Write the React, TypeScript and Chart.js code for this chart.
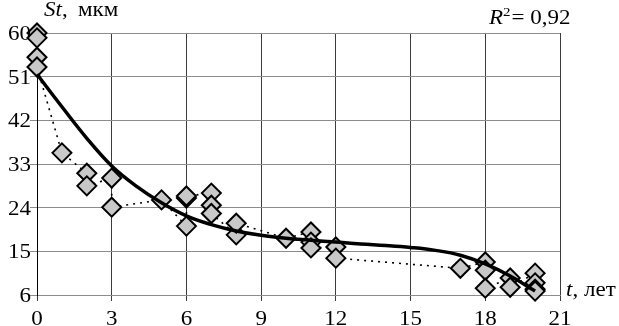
import React, { useEffect, useRef } from 'react';
import { Chart, registerables } from 'chart.js';

Chart.register(...registerables);

// Measured points (t, years; St, µm)
const pointX = [0, 0, 0, 0, 1, 2, 2, 3, 3, 5, 6, 6, 6, 7, 7, 7, 8, 8, 10, 11, 11, 11, 12, 12, 17, 18, 18, 18, 19, 19, 20, 20, 20, 20];
const pointY = [60, 59, 55, 53, 35.3, 31.1, 28.5, 30.1, 24.1, 25.6, 20.2, 26.0, 26.4, 27, 24.5, 22.8, 18.4, 20.8, 17.7, 19, 16.9, 15.7, 15.9, 13.6, 11.5, 12.8, 11.1, 7.4, 9.5, 7.6, 10.5, 8.5, 7.2, 6.8];

// Trend curve
const fitX = [0, 1, 2, 3, 4, 5, 6, 7, 8, 9, 10, 11, 12, 13, 14, 15, 16, 17, 18, 19, 20];
const fitY = [51.5, 44.8, 38.3, 32.6, 28.4, 25.0, 22.3, 20.5, 19.2, 18.3, 17.7, 17.3, 16.9, 16.5, 16.2, 15.8, 15.2, 14.2, 12.4, 9.9, 6.8];

const xTickValues = [0, 3, 6, 9, 12, 15, 18, 21];
const xTickLabels = ['0', '3', '6', '9', '12', '15', '18', '21'];
const yTickValues = [6, 15, 24, 33, 42, 51, 60];
const yTickLabels = ['6', '15', '24', '33', '42', '51', '60'];

const yTitleItalic = 'St';
const yTitleRest = ',';
const yTitleUnit = 'мкм';
const xTitleItalic = 't';
const xTitleRest = ',';
const xTitleUnit = 'лет';
const rLabel = 'R';
const rPower = '2';
const rValue = '= 0,92';

const SERIF = '"Liberation Serif", "Times New Roman", serif';
const SX = 1.15;

function drawStretched(ctx: CanvasRenderingContext2D, text: string, x: number, y: number, align: string, font: string, sx: number): number {
  ctx.save();
  ctx.font = font;
  ctx.textBaseline = 'alphabetic';
  ctx.textAlign = 'left';
  const w = ctx.measureText(text).width * sx;
  const left = align === 'left' ? x : align === 'right' ? x - w : x - w / 2;
  ctx.translate(left, y);
  ctx.scale(sx, 1);
  ctx.fillStyle = '#000';
  ctx.fillText(text, 0, 0);
  ctx.restore();
  return w;
}

const textPlugin = {
  id: 'textPlugin',
  afterDraw(chart: any) {
    const ctx: CanvasRenderingContext2D = chart.ctx;
    const xs = chart.scales.x;
    const ys = chart.scales.y;
    const reg = `20px ${SERIF}`;
    const ital = `italic 20px ${SERIF}`;
    yTickValues.forEach((v, i) => {
      const py = ys.getPixelForValue(v);
      drawStretched(ctx, yTickLabels[i], 31, py + 7, 'right', reg, SX);
    });
    xTickValues.forEach((v, i) => {
      const px = xs.getPixelForValue(v);
      drawStretched(ctx, xTickLabels[i], px, 325, 'center', reg, SX);
    });
    // y title
    let x = 44;
    x += drawStretched(ctx, yTitleItalic, x, 16, 'left', ital, SX);
    drawStretched(ctx, yTitleRest, x, 16, 'left', reg, SX);
    drawStretched(ctx, yTitleUnit, 78, 16, 'left', reg, SX);
    // x title
    let tx = 566;
    tx += drawStretched(ctx, xTitleItalic, tx, 296, 'left', ital, SX);
    drawStretched(ctx, xTitleRest, tx, 296, 'left', reg, SX);
    drawStretched(ctx, xTitleUnit, 584, 296, 'left', reg, SX);
    // R^2
    let rx = 489;
    rx += drawStretched(ctx, rLabel, rx, 24, 'left', ital, SX);
    rx += drawStretched(ctx, rPower, rx, 16, 'left', `13px ${SERIF}`, SX);
    drawStretched(ctx, rValue, rx + 1, 24, 'left', reg, SX);
  },
};

export default function App() {
  const ref = useRef<HTMLCanvasElement | null>(null);
  useEffect(() => {
    if (!ref.current) return;
    const points = pointX.map((x, i) => ({ x, y: pointY[i] }));
    const fit = fitX.map((x, i) => ({ x, y: fitY[i] }));
    const chart = new Chart(ref.current, {
      type: 'scatter',
      data: {
        datasets: [
          {
            label: 'trend',
            data: fit,
            showLine: true,
            borderColor: '#000',
            borderWidth: 3.5,
            pointRadius: 0,
            tension: 0.4,
            order: 0,
            clip: false,
          } as any,
          {
            label: 'points',
            data: points,
            showLine: false,
            pointStyle: 'rectRot',
            pointRadius: 9.5,
            pointBackgroundColor: '#c8c8c8',
            pointBorderColor: '#000',
            pointBorderWidth: 2,
            order: 1,
            clip: false,
          } as any,
          {
            label: 'link',
            data: points,
            showLine: true,
            borderColor: '#000',
            borderWidth: 1.6,
            borderDash: [2, 5],
            pointRadius: 0,
            order: 2,
            clip: false,
          } as any,
        ],
      },
      options: {
        animation: false,
        responsive: false,
        events: [],
        layout: { padding: { top: 33, right: 59, left: 0, bottom: 0 } },
        plugins: { legend: { display: false }, tooltip: { enabled: false } },
        scales: {
          x: {
            type: 'linear',
            min: 0,
            max: 21,
            afterFit: (s: any) => { s.height = 31; },
            afterBuildTicks: (s: any) => { s.ticks = xTickValues.map((v) => ({ value: v })); },
            ticks: { display: false, stepSize: 3 },
            grid: { color: '#3c3c3c', lineWidth: 1, drawTicks: true, tickLength: 6, tickColor: '#3c3c3c' },
            border: { display: true, color: '#8c8c8c', width: 1 },
          },
          y: {
            type: 'linear',
            min: 6,
            max: 60,
            afterFit: (s: any) => { s.width = 37; },
            afterBuildTicks: (s: any) => { s.ticks = yTickValues.map((v) => ({ value: v })); },
            ticks: { display: false, stepSize: 9 },
            grid: { color: '#8c8c8c', lineWidth: 1, drawTicks: true, tickLength: 7, tickColor: '#8c8c8c' },
            border: { display: true, color: '#000', width: 1 },
          },
        },
      },
      plugins: [textPlugin],
    } as any);
    return () => chart.destroy();
  }, []);
  return (
    <div style={{ position: 'fixed', left: 0, top: 0, width: 619, height: 326, background: '#fff' }}>
      <canvas ref={ref} width={619} height={326} style={{ display: 'block', width: 619, height: 326 }} />
    </div>
  );
}
